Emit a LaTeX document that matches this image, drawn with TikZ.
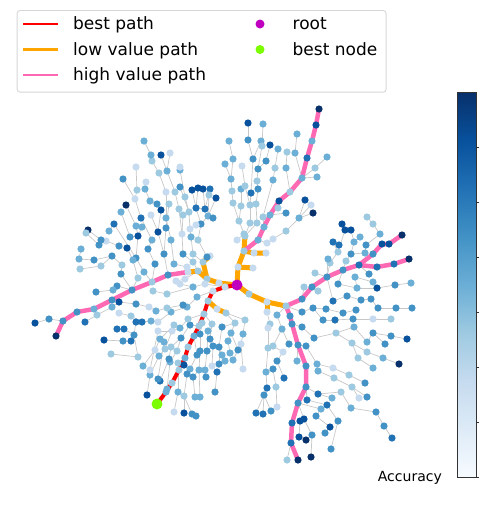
\documentclass[tikz,border=0pt]{standalone}
\usepackage{fontspec}
\setmainfont{DejaVu Sans}
\usetikzlibrary{positioning}
\definecolor{bestred}{HTML}{FF0000}
\definecolor{pathorange}{HTML}{FFA500}
\definecolor{highpk}{HTML}{FF69B4}
\definecolor{rootmag}{HTML}{BF00BF}
\definecolor{bestgrn}{HTML}{7CFC00}
\definecolor{edgegray}{HTML}{C8C8C8}
\definecolor{legframe}{HTML}{D6D6D6}
\definecolor{cbframe}{HTML}{333333}
\definecolor{bl1}{HTML}{C6DBEF}
\definecolor{bl2}{HTML}{9ECAE1}
\definecolor{bl3}{HTML}{6BAED6}
\definecolor{bl4}{HTML}{4292C6}
\definecolor{bl5}{HTML}{2171B5}
\definecolor{bl6}{HTML}{08519C}
\definecolor{bl7}{HTML}{08306B}
\definecolor{cb0}{HTML}{F7FBFF}
\definecolor{cb1}{HTML}{DEEBF7}
\definecolor{cb2}{HTML}{C6DBEF}
\definecolor{cb3}{HTML}{9ECAE1}
\definecolor{cb4}{HTML}{6BAED6}
\definecolor{cb5}{HTML}{4292C6}
\definecolor{cb6}{HTML}{2171B5}
\definecolor{cb7}{HTML}{08519C}
\definecolor{cb8}{HTML}{08306B}
\pgfdeclareverticalshading{blues}{100bp}{color(0bp)=(cb0); color(25bp)=(cb0); color(31.25bp)=(cb1); color(37.5bp)=(cb2); color(43.75bp)=(cb3); color(50bp)=(cb4); color(56.25bp)=(cb5); color(62.5bp)=(cb6); color(68.75bp)=(cb7); color(75bp)=(cb8); color(100bp)=(cb8)}
\tikzset{
 leaf/.style={circle,inner sep=0pt,minimum size=7.2pt},
 treeedge/.style={draw=edgegray,line width=0.7pt},
 lowpath/.style={draw=pathorange,line width=5pt,line cap=round,line join=round},
 highpath/.style={draw=highpk,line width=4.5pt,line cap=round,line join=round},
 bestpath/.style={draw=bestred,line width=4pt,line cap=round,line join=round},
 legtext/.style={anchor=base west,font=\fontsize{17}{20}\selectfont,inner sep=0pt},
 legbar/.style={rectangle,inner sep=0pt,minimum width=35pt,minimum height=2.2pt,anchor=west},
 marker/.style={circle,inner sep=0pt,minimum size=#1},
}
\newif\ifdotpass
% one branch: parent, name prefix, list x/y/shade
\newcommand{\treechain}[3]{%
  \foreach \px/\py/\sh [count=\i] in {#3} {%
    \ifdotpass
      \node[leaf,fill=bl\sh] (#2\i-dot) at (#2\i) {};
    \else
      \coordinate (#2\i) at (\px,\py);
      \pgfmathtruncatemacro{\j}{\i-1}%
      \ifnum\i=1 \def\prevnode{#1}\else\edef\prevnode{#2\j}\fi
      \draw[treeedge] (\prevnode) -- (#2\i);
    \fi
  }%
}
\newcommand{\searchtree}{%
% spines
\treechain{R}{r}{225/287/1, 213/291/1, 208/301/2, 204/314/2, 199/326/2, 194/336/3, 188/347/2, 185/358/3, 179/370/2, 172/383/2, 166/392/3}
\treechain{R}{o}{219/283/1, 207/279/2, 198/271/2, 188/272/1}
\treechain{o2}{u}{203/262/2, 210/256/1}
\treechain{R}{t}{238/267/1, 244/251/2, 245/236/2}
\treechain{t1}{ts}{253/268/1}
\treechain{t2}{tu}{254/253/1, 266/253/1}
\treechain{R}{e}{249/294/2, 267/302/1, 286/306/2}
\treechain{e2}{es}{267/312/1}
\treechain{o4}{pl}{168/275/4, 152/282/2, 132/290/4, 112/300/4, 94/309/3, 77/312/4, 63/321/4, 56/336/7}
\treechain{pl7}{pa}{49/319/4, 35/323/6}
\treechain{t2}{pu}{258/240/3, 264/227/3, 270/215/3, 279/201/6, 290/192/2, 302/178/3, 307/158/5, 312/141/3, 316/125/6, 319/109/7}
\treechain{e3}{pr}{302/299/4, 312/287/4, 327/277/4, 343/270/4, 359/265/5, 377/267/5, 394/264/5, 409/259/7}
\treechain{pr5}{pb}{373/254/4, 382/244/6, 389/244/6, 402/235/7}
\treechain{e3}{pd}{290/316/4, 292/324/4, 298/345/4, 306/366/4, 306/387/4, 298/403/4, 292/423/5, 291/443/5, 298/460/7}
% top cluster
\treechain{t3}{ta}{239/221/2, 233/203/2, 232/191/2, 231/179/3, 225/164/3}
\treechain{ta4}{tb}{233/159/3, 229/141/3}
\treechain{ta1}{tv}{241/206/2, 241/189/3}
\treechain{t3}{tc}{250/223/2, 250/205/2, 245/186/2, 242/166/1}
\treechain{tc2}{td}{251/193/5, 253/159/4, 248/140/4, 248/123/6}
\treechain{td2}{tt}{261/141/3}
\treechain{t3}{te}{257/223/2, 256/204/2, 258/189/4, 257/181/2, 258/169/4, 262/146/2, 263/124/3}
\treechain{te5}{tf}{266/161/4, 270/145/6}
\treechain{pu2}{tg}{263/217/2, 273/180/3, 275/168/2, 278/149/3}
\treechain{pu3}{th}{286/213/4}
\treechain{pu4}{ti}{278/208/2}
\treechain{pu5}{tj}{286/168/3, 287/152/2}
\treechain{pu6}{tk}{295/153/3, 297/134/3}
\treechain{pu6}{tl}{315/168/2, 327/157/3}
\treechain{pu6}{tm}{317/177/3}
\treechain{pu1}{tn}{267/243/1, 273/239/1, 286/231/2, 299/218/3, 305/200/6}
\treechain{tn4}{to}{313/213/7}
\treechain{tn4}{tp}{311/205/1}
\treechain{t3}{tw}{244/234/2, 237/240/1}
% upper left cluster
\treechain{u2}{ua}{207/257/4, 198/240/2, 201/224/4, 196/208/5, 192/190/6}
\treechain{ua3}{ub}{196/225/1}
\treechain{ua4}{uc}{205/209/5, 203/189/6}
\treechain{ua4}{ud}{198/188/6}
\treechain{uc1}{ue}{210/189/5}
\treechain{ua3}{uf}{208/216/3, 216/198/6}
\treechain{uf1}{ug}{213/218/4}
\treechain{uf1}{uh}{209/195/2}
\treechain{u1}{ui}{193/254/2, 191/237/3, 190/229/1, 189/212/2, 185/197/2, 180/170/3, 180/167/1}
\treechain{ui4}{uj}{180/187/4}
\treechain{o3}{uk}{193/262/2, 183/254/4, 182/234/1, 179/209/2, 175/192/2, 167/171/3, 161/155/6}
\treechain{uk6}{ul}{170/153/1}
\treechain{uk3}{um}{183/215/2}
\treechain{o4}{un}{187/267/1, 174/264/3, 171/240/3, 166/218/3, 166/192/1, 159/173/2, 152/161/2, 151/155/3, 144/141/3}
\treechain{pl1}{uo}{164/254/4, 158/232/6, 161/210/6, 157/204/4, 150/201/3, 145/189/3, 146/182/1}
\treechain{uo1}{up}{166/228/4, 169/204/2}
\treechain{uo2}{uq}{151/215/1}
\treechain{pl2}{us}{155/264/4, 148/249/4, 152/240/3, 141/218/5, 135/199/1, 137/190/2, 136/167/1}
\treechain{us5}{ut}{123/179/4}
\treechain{pl2}{uv}{144/272/3, 136/258/4, 138/236/6, 136/226/3, 126/205/7}
\treechain{uv3}{uw}{130/237/4, 121/212/3}
\treechain{uv3}{ux}{142/227/3}
\treechain{uv2}{uy}{114/224/5, 109/231/3}
\treechain{pl3}{uz}{138/278/2, 133/260/3, 127/248/6, 119/246/4, 106/241/1, 101/240/4, 88/230/7}
\treechain{uz5}{va}{99/245/4, 86/233/2}
\treechain{pl3}{vb}{121/274/4, 122/265/2, 112/256/4, 94/260/4, 79/259/3, 81/249/3}
\treechain{vb3}{vc}{101/266/2, 80/269/2}
\treechain{o3}{vd}{185/279/1, 176/281/1}
% lower left cluster
\treechain{r3}{la}{217/309/1, 226/313/2, 235/323/2, 231/333/3, 228/341/3, 230/353/3}
\treechain{la2}{lb}{245/320/2, 243/334/3, 241/344/1, 243/369/1}
\treechain{la4}{lc}{238/350/4, 233/360/3}
\treechain{la3}{ld}{222/327/4, 219/347/4, 219/364/4, 217/372/5, 215/392/4}
\treechain{ld2}{le}{222/355/3, 225/361/3}
\treechain{r4}{lf}{212/324/2, 210/339/4, 213/346/4, 212/366/1}
\treechain{lf1}{lg}{208/331/3, 207/351/4, 205/370/3, 206/377/4}
\treechain{r5}{lh}{202/323/2, 200/334/4, 200/351/4, 199/370/3, 200/397/3}
\treechain{lh4}{li}{193/377/4, 195/397/3}
\treechain{r6}{lj}{197/355/4, 190/369/3, 187/374/4, 184/396/2, 184/413/6}
\treechain{lj4}{lk}{192/414/4, 196/416/4}
\treechain{r8}{ll}{178/363/2, 178/392/3, 174/412/1}
\treechain{r8}{lm}{184/365/6}
\treechain{r5}{lo}{190/325/4, 181/338/4, 177/351/2, 170/362/3, 167/389/3}
\treechain{lo2}{lp}{171/347/2, 169/359/4, 160/381/5}
\treechain{r4}{lq}{188/319/2, 180/328/3, 172/331/1, 165/349/2, 159/356/3, 150/375/3, 147/395/6}
\treechain{lq2}{lr}{174/325/2, 160/339/3, 155/350/1, 143/366/3}
\treechain{lr2}{ls}{164/342/3, 158/379/4}
\treechain{lq3}{lt}{158/331/1, 150/370/1}
\treechain{r2}{lu}{197/297/3, 187/307/3, 171/312/3, 158/322/1, 151/321/3, 142/322/5, 136/322/5}
\treechain{lu2}{lv}{183/305/4, 167/308/2, 156/311/3, 149/307/1, 136/304/4, 119/302/6}
\treechain{lv6}{lw}{112/307/3, 97/315/2, 85/322/5}
\treechain{lu7}{lx}{134/335/4, 124/329/5, 117/329/5}
\treechain{lx1}{ly}{131/341/5, 123/341/4, 104/340/6}
\treechain{lx1}{lz}{138/357/2, 111/354/2}
\treechain{lu6}{ma}{131/316/2, 119/313/1}
\treechain{r1}{mb}{205/284/1, 193/287/3, 180/284/1}
\treechain{mb2}{mc}{167/294/2, 153/291/2}
\treechain{pl3}{md}{117/286/4, 113/290/3, 96/292/4}
% lower middle cluster
\treechain{es1}{na}{270/324/2, 268/328/1, 268/348/2, 266/372/3, 267/388/5, 264/395/4, 256/413/5}
\treechain{na4}{nb}{273/369/4, 276/387/2, 277/407/1}
\treechain{na6}{nc}{263/414/5}
\treechain{na6}{nd}{271/411/4}
\treechain{e3}{ng}{277/315/3, 282/329/3, 289/344/4}
\treechain{ng2}{nh}{273/346/2, 283/352/1, 277/361/4, 284/378/5}
\treechain{pd3}{ni}{297/361/3}
% right cluster
\treechain{e3}{ra}{302/312/4, 313/308/4, 326/309/4, 343/313/4, 356/310/4}
\treechain{ra2}{rb}{323/320/4, 335/320/5, 353/319/4, 373/319/1, 391/319/2}
\treechain{pd2}{rd}{302/327/4, 314/338/4, 336/333/2, 352/343/2, 367/352/2, 383/358/3, 399/364/7}
\treechain{rd3}{re}{354/327/3, 367/342/3, 373/333/4, 391/336/4, 407/339/6}
\treechain{re3}{rf}{385/344/4}
\treechain{rd4}{rg}{358/358/2, 373/368/3}
\treechain{pd3}{rh}{306/346/4, 317/364/3, 333/368/1, 349/375/2, 365/383/4}
\treechain{rh2}{ri}{318/371/3, 334/378/2, 352/387/2, 367/397/4}
\treechain{ri3}{rj}{359/398/1}
\treechain{pd5}{rk}{318/394/5, 341/392/2, 351/408/3, 376/412/4, 384/426/4, 392/438/5}
\treechain{rk1}{rm}{332/398/3}
\treechain{pd5}{rl}{307/400/5, 327/405/5, 338/421/4, 331/449/4}
\treechain{pd6}{rn}{304/419/6, 312/435/4, 311/457/7}
\treechain{pd6}{ro}{321/409/3, 316/416/4, 330/427/6, 325/433/4}
\treechain{pd7}{rp}{300/421/6, 299/437/6, 306/440/7}
\treechain{pd8}{rq}{287/460/2}
\treechain{pr1}{rr}{304/287/2}
\treechain{pr2}{rs}{318/291/2}
\treechain{pr3}{rt}{315/273/2}
\treechain{pr3}{ru}{333/301/5, 347/296/4, 361/300/4, 371/299/4, 378/308/4, 396/308/4, 412/308/4}
\treechain{pr4}{rv}{338/284/4, 357/288/3, 377/288/6, 395/285/4, 411/283/3}
\treechain{rv2}{rw}{355/277/3, 373/282/3}
\treechain{pr5}{rx}{369/274/4}
\treechain{pr3}{ry}{330/263/2, 338/252/2, 333/242/5}
\treechain{ry2}{rz}{345/230/6, 342/224/6}
\treechain{ry3}{se}{339/245/5}
\treechain{pr4}{sa}{346/261/2, 351/254/4, 354/242/3, 351/230/6}
\treechain{sa3}{sf}{360/237/3}
\treechain{sa2}{sb}{365/253/3, 366/245/4, 380/234/3, 373/224/2, 367/217/2}
\treechain{pr3}{sd}{328/259/3}
}

\begin{document}
\begin{tikzpicture}[x=1pt,y=-1pt]
\useasboundingbox (0,0) rectangle (479,512);

% legend
\node[draw=legframe,line width=0.9pt,rounded corners=3pt,fill=white,minimum width=369pt,minimum height=81.7pt,inner sep=0pt,anchor=north west] (legbox) at (16.7,10) {};
\node[legtext] (tbest) at (73,29.5) {best path};
\node[legtext] (tlowval) at (73,55) {low value path};
\node[legtext] (thigh) at (73,80.5) {high value path};
\node[legtext] (troot) at (292.5,29.5) {root};
\node[legtext] (tbnode) at (292.5,55) {best node};
\node[legbar,fill=bestred] (sbest) at ([xshift=-50pt,yshift=5.5pt]tbest.base west) {};
\node[legbar,fill=pathorange] (slow) at ([xshift=-50pt,yshift=5.5pt]tlowval.base west) {};
\node[legbar,fill=highpk] (shigh) at ([xshift=-50pt,yshift=5.5pt]thigh.base west) {};
\node[marker=9pt,fill=rootmag] (mroot) at ([xshift=-32.5pt,yshift=5.5pt]troot.base west) {};
\node[marker=9pt,fill=bestgrn] (mbest) at ([xshift=-32.5pt,yshift=5.5pt]tbnode.base west) {};

% colour bar
\node[draw=cbframe,line width=0.8pt,shade,shading=blues,minimum width=19pt,minimum height=385.3pt,inner sep=0pt,anchor=north west] (cbar) at (456.7,91.7) {};
\foreach \k in {0,...,6} \draw[cbframe,line width=0.8pt] ([yshift=\k*55pt]cbar.south east) -- ++(4pt,0);
\node[font=\fontsize{14}{16}\selectfont,anchor=base east,inner sep=0pt] (cblabel) at (442,481.5) {Accuracy};

% tree
\coordinate (R) at (237,285);
\coordinate (B) at (157,404);
% gray edges first
\dotpassfalse
\searchtree
% highlighted paths
\draw[lowpath] (R) \foreach \k in {1,...,4} {-- (o\k)};
\draw[lowpath] (o2) -- (u1) -- (u2);
\draw[lowpath] (r3) -- (la1) -- (la2);
\draw[lowpath] (R) \foreach \k in {1,...,3} {-- (t\k)};
\draw[lowpath] (t1) -- (ts1);
\draw[lowpath] (t2) -- (tu1) -- (tu2);
\draw[lowpath] (R) \foreach \k in {1,...,3} {-- (e\k)};
\draw[lowpath] (e2) -- (es1);
\draw[highpath] (o4) \foreach \k in {1,...,8} {-- (pl\k)};
\draw[highpath] (t2) \foreach \k in {1,...,10} {-- (pu\k)};
\draw[highpath] (e3) \foreach \k in {1,...,8} {-- (pr\k)};
\draw[highpath] (pr5) \foreach \k in {1,...,4} {-- (pb\k)};
\draw[highpath] (e3) \foreach \k in {1,...,9} {-- (pd\k)};
\draw[bestpath] (R) \foreach \k in {1,...,11} {-- (r\k)} -- (B);
% dots on top
\dotpasstrue
\searchtree
\node[marker=11pt,fill=rootmag] (Rdot) at (R) {};
\node[marker=11pt,fill=bestgrn] (Bdot) at (B) {};
\end{tikzpicture}
\end{document}
